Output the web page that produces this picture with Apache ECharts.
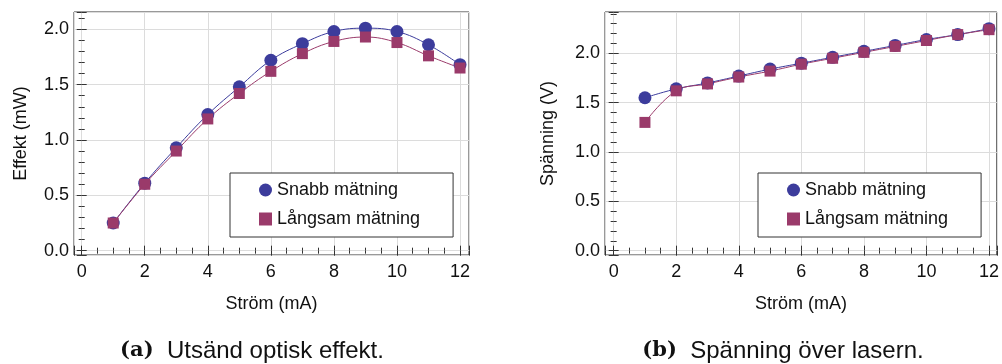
<!DOCTYPE html>
<html>
<head>
<meta charset="utf-8">
<script src="https://cdn.jsdelivr.net/npm/echarts@6/dist/echarts.min.js"></script>
<style>
  html, body { margin: 0; padding: 0; background: #fff; }
  #chart { width: 1002px; height: 364px; }
</style>
</head>
<body>
<div id="chart"></div>
<script>
// strom (mA)
const strom = [1, 2, 3, 4, 5, 6, 7, 8, 9, 10, 11, 12];
// (a) effekt (mW)
const effektSnabb = [0.25, 0.61, 0.93, 1.23, 1.48, 1.72, 1.87, 1.98, 2.01, 1.98, 1.86, 1.68];
const effektLangsam = [0.25, 0.60, 0.90, 1.19, 1.42, 1.62, 1.78, 1.89, 1.93, 1.88, 1.76, 1.65];
// (b) spanning (V)
const spanSnabb = [1.55, 1.64, 1.70, 1.77, 1.84, 1.90, 1.96, 2.02, 2.08, 2.14, 2.19, 2.25];
const spanLangsam = [1.30, 1.62, 1.69, 1.76, 1.82, 1.89, 1.95, 2.01, 2.07, 2.13, 2.19, 2.24];

const seriesNames = ['Snabb mätning', 'Långsam mätning'];
const blue = '#3c3c9c';
const pink = '#9a3a6a';
const sans = 'Liberation Sans';

const pairs = (ys) => strom.map((x, i) => [x, ys[i]]);

const xAxisBase = (gridIndex, position, min, max, main) => ({
  type: 'value',
  gridIndex: gridIndex,
  position: position,
  min: min,
  max: max,
  splitNumber: 6,
  name: main ? 'Ström (mA)' : '',
  nameLocation: 'middle',
  nameGap: 40,
  nameTextStyle: { fontFamily: sans, fontSize: 18, color: '#111' },
  axisLine: { show: false },
  axisTick: { show: true, inside: true, length: 5, lineStyle: { color: '#333' } },
  minorTick: { show: true, splitNumber: 4, length: 3, lineStyle: { color: '#333' } },
  axisLabel: {
    show: main, margin: 8, showMinLabel: false, showMaxLabel: false,
    fontFamily: sans, fontSize: 18, color: '#111'
  },
  splitLine: { show: main, lineStyle: { color: '#dcdcdc' } }
});

const yAxisBase = (gridIndex, position, min, max, main, name, gap) => ({
  type: 'value',
  gridIndex: gridIndex,
  position: position,
  min: min,
  max: max,
  splitNumber: 5,
  name: main ? name : '',
  nameLocation: 'middle',
  nameGap: gap,
  nameTextStyle: { fontFamily: sans, fontSize: 18, color: '#111' },
  axisLine: { show: false },
  axisTick: { show: true, inside: true, length: 5, lineStyle: { color: '#333' } },
  minorTick: { show: true, splitNumber: 5, length: 3, lineStyle: { color: '#333' } },
  axisLabel: {
    show: main, margin: 5, showMinLabel: false, showMaxLabel: false,
    fontFamily: sans, fontSize: 18, color: '#111',
    formatter: (v) => v.toFixed(1)
  },
  splitLine: { show: main, lineStyle: { color: '#dcdcdc' } }
});

const makeSeries = (name, data, color, symbol, size, xi, yi) => ({
  name: name,
  type: 'line',
  xAxisIndex: xi,
  yAxisIndex: yi,
  data: pairs(data),
  smooth: 0.4,
  symbol: symbol,
  symbolSize: size,
  showSymbol: true,
  lineStyle: { color: color, width: 1 },
  itemStyle: { color: color },
  emphasis: { disabled: true },
  animation: false
});

const legendBase = (left) => ({
  orient: 'vertical',
  left: left,
  top: 173,
  padding: [8, 33, 9, 29],
  itemGap: 11,
  itemWidth: 13,
  itemHeight: 13,
  backgroundColor: '#fff',
  borderColor: '#333',
  borderWidth: 1,
  borderRadius: 0,
  textStyle: { fontFamily: sans, fontSize: 18, color: '#111', lineHeight: 16 },
  data: [
    { name: seriesNames[0], icon: 'circle' },
    { name: seriesNames[1], icon: 'rect' }
  ],
  selectedMode: false
});

const chart = echarts.init(document.getElementById('chart'));
const option = {
  animation: false,
  grid: [
    { left: 74, right: 533, top: 12, bottom: 109, show: true, borderColor: '#333', borderWidth: 1, backgroundColor: 'transparent' },
    { left: 605, right: 3, top: 12, bottom: 109, show: true, borderColor: '#333', borderWidth: 1, backgroundColor: 'transparent' }
  ],
  xAxis: [
    xAxisBase(0, 'bottom', -0.244, 12.285, true),
    xAxisBase(0, 'top', -0.244, 12.285, false),
    xAxisBase(1, 'bottom', -0.277, 12.25, true),
    xAxisBase(1, 'top', -0.277, 12.25, false)
  ],
  yAxis: [
    yAxisBase(0, 'left', -0.039, 2.156, true, 'Effekt (mW)', 44),
    yAxisBase(0, 'right', -0.039, 2.156, false, '', 0),
    yAxisBase(1, 'left', -0.044, 2.419, true, 'Spänning (V)', 48),
    yAxisBase(1, 'right', -0.044, 2.419, false, '', 0)
  ],
  legend: [
    Object.assign(legendBase(230), { id: 'la' }),
    Object.assign(legendBase(758), { id: 'lb' })
  ],
  series: [
    makeSeries(seriesNames[0], effektSnabb, blue, 'circle', 13, 0, 0),
    makeSeries(seriesNames[1], effektLangsam, pink, 'rect', 11, 0, 0),
    makeSeries(seriesNames[0], spanSnabb, blue, 'circle', 13, 2, 2),
    makeSeries(seriesNames[1], spanLangsam, pink, 'rect', 11, 2, 2)
  ],
  graphic: [
    {
      type: 'text', x: 252, y: 351,
      style: {
        text: '{b|(a)}  Utsänd optisk effekt.',
        font: '24px "Liberation Sans"', fill: '#111',
        align: 'center', verticalAlign: 'middle',
        rich: { b: { fontFamily: 'DejaVu Serif', fontWeight: 'bold', fontSize: 21, fill: '#111' } }
      }
    },
    {
      type: 'text', x: 783, y: 351,
      style: {
        text: '{b|(b)}  Spänning över lasern.',
        font: '24px "Liberation Sans"', fill: '#111',
        align: 'center', verticalAlign: 'middle',
        rich: { b: { fontFamily: 'DejaVu Serif', fontWeight: 'bold', fontSize: 21, fill: '#111' } }
      }
    }
  ]
};
chart.setOption(option);
</script>
</body>
</html>
